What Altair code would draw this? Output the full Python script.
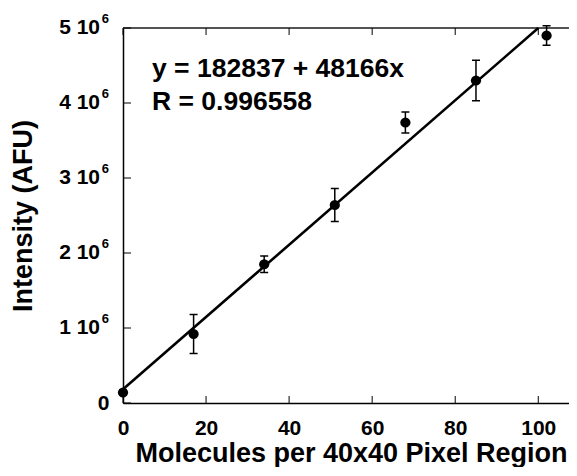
import altair as alt
import pandas as pd

# ---- data ----
molecules = [0, 17, 34, 51, 68, 85, 102]
intensity = [0.14e6, 0.92e6, 1.85e6, 2.64e6, 3.74e6, 4.30e6, 4.90e6]
errors = [0.03e6, 0.26e6, 0.11e6, 0.22e6, 0.14e6, 0.27e6, 0.13e6]
fit_intercept = 182837
fit_slope = 48166
fit_x = [0, 100]
x_ticks = [0, 20, 40, 60, 80, 100]
y_ticks = [0, 1e6, 2e6, 3e6, 4e6, 5e6]
y_mantissa = ["1 10", "2 10", "3 10", "4 10", "5 10"]
y_exponent = "6"
equation_text = "y = 182837 + 48166x\nR = 0.996558"

W, H = 446, 375
FONT = "Liberation Sans"

pts = pd.DataFrame({"x": molecules, "y": intensity, "err": errors})
pts["lo"] = pts["y"] - pts["err"]
pts["hi"] = pts["y"] + pts["err"]
fit = pd.DataFrame({"x": fit_x})
xt = pd.DataFrame({"x": x_ticks})
yt = pd.DataFrame({"y": y_ticks})
ylab = pd.DataFrame({"y": y_ticks[1:], "m": y_mantissa, "e": [y_exponent] * len(y_mantissa)})

xs = alt.Scale(domain=[0, 107.4], nice=False, zero=False)
ys = alt.Scale(domain=[0, 5e6], nice=False, zero=False)

xaxis = alt.Axis(values=x_ticks, format="d", ticks=False, tickSize=0, labelPadding=14,
                 labelFontSize=21, labelFont=FONT, labelFontWeight="bold",
                 labelColor="black", domainColor="black", domainWidth=1.5,
                 grid=False, title="Molecules per 40x40 Pixel Region",
                 titleFont=FONT, titleFontSize=27, titleFontWeight="bold",
                 titleColor="black", titleX=228, titleY=58,
                 titleBaseline="alphabetic", titleAlign="center",
                 labelFlush=False, labelOverlap=False)
yaxis = alt.Axis(values=y_ticks, ticks=False, tickSize=0, labelPadding=14,
                 labelExpr="datum.value == 0 ? '0' : ''",
                 labelFontSize=21, labelFont=FONT, labelFontWeight="bold",
                 labelColor="black", domainColor="black", domainWidth=1.5,
                 grid=False, title="Intensity (AFU)",
                 titleFont=FONT, titleFontSize=27, titleFontWeight="bold",
                 titleColor="black", titleX=-100, titleY=H / 2,
                 titleAngle=270, titleBaseline="middle", titleAlign="center",
                 labelFlush=False, labelOverlap=False)

X = alt.X("x:Q", scale=xs, axis=xaxis)
Y = alt.Y("y:Q", scale=ys, axis=yaxis)

fit_line = alt.Chart(fit).mark_line(color="black", strokeWidth=2.6).transform_calculate(
    y=f"{fit_intercept} + {fit_slope} * datum.x"
).encode(x=X, y=Y)

err_rule = alt.Chart(pts).mark_rule(color="black", strokeWidth=1.5).encode(
    x=X, y=alt.Y("lo:Q", scale=ys), y2="hi:Q")
cap_hi = alt.Chart(pts).mark_rule(color="black", strokeWidth=1.5, xOffset=-4, x2Offset=4).encode(
    x=X, x2="x:Q", y=alt.Y("hi:Q", scale=ys))
cap_lo = alt.Chart(pts).mark_rule(color="black", strokeWidth=1.5, xOffset=-4, x2Offset=4).encode(
    x=X, x2="x:Q", y=alt.Y("lo:Q", scale=ys))

points = alt.Chart(pts).mark_circle(color="black", opacity=1, size=105).encode(x=X, y=Y)

tick_left = alt.Chart(yt).mark_rule(color="black", strokeWidth=1).encode(
    y=Y, x=alt.value(0), x2=alt.value(8))
tick_bottom = alt.Chart(xt).mark_rule(color="black", strokeWidth=1).encode(
    x=X, y=alt.value(H), y2=alt.value(H - 7))
tick_top = alt.Chart(xt).mark_rule(color="black", strokeWidth=1).encode(
    x=X, y=alt.value(0), y2=alt.value(7))
top_frame = alt.Chart(xt).mark_rule(color="#555", strokeWidth=1.5).encode(
    x=alt.value(0), x2=alt.value(W), y=alt.value(0))

ylab_m = alt.Chart(ylab).mark_text(
    align="right", baseline="middle", font=FONT, fontSize=21, fontWeight="bold",
    color="black", dx=-23).encode(y=Y, x=alt.value(0), text="m:N")
ylab_e = alt.Chart(ylab).mark_text(
    align="right", baseline="middle", font=FONT, fontSize=13, fontWeight="bold",
    color="black", dx=-14, dy=-9).encode(y=Y, x=alt.value(0), text="e:N")

eq = alt.Chart(pd.DataFrame({"t": [equation_text]})).mark_text(
    align="left", baseline="alphabetic", font=FONT, fontSize=26.5, fontWeight="bold",
    color="black", lineBreak="\n", lineHeight=33
).encode(text="t:N", x=alt.value(29), y=alt.value(49))

chart = alt.layer(
    top_frame, tick_left, tick_bottom, tick_top,
    fit_line, err_rule, cap_hi, cap_lo, points, ylab_m, ylab_e, eq
).properties(
    width=W, height=H,
    autosize=alt.AutoSizeParams(type="none"),
    padding={"left": 115, "top": 20, "right": 0, "bottom": 64},
    background="white",
).configure_view(stroke=None)

chart.save("out.html", embed_options={"renderer": "svg", "actions": False})
